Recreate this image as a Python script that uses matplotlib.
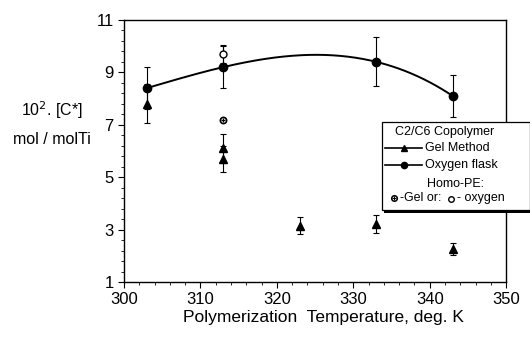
import numpy as np
import matplotlib.pyplot as plt
from matplotlib.lines import Line2D
from matplotlib.patches import Rectangle

plt.rcParams['font.family'] = ['Liberation Sans', 'DejaVu Sans']

# 数据: 聚合温度 (K) 和 10^2.[C*] (mol/molTi)
temp_oxygen = [303, 313, 333, 343]
c_oxygen = [8.4, 9.2, 9.4, 8.1]
err_oxygen = [0.8, 0.8, 0.93, 0.8]

temp_gel = [303, 313, 313, 323, 333, 343]
c_gel = [7.8, 6.1, 5.7, 3.15, 3.2, 2.25]
err_gel = [0.75, 0.55, 0.5, 0.32, 0.34, 0.23]

# 均聚 PE
temp_homo_gel = [313]
c_homo_gel = [7.2]
temp_homo_oxy = [313]
c_homo_oxy = [9.7]
err_homo_oxy = [0.35]

fig = plt.figure(figsize=(5.30, 3.37), dpi=100)
ax = fig.add_axes([0.234, 0.163, 0.721, 0.778])

# 拟合曲线 (三次)
coef = np.polyfit(temp_oxygen, c_oxygen, 3)
tt = np.linspace(303, 343, 200)
ax.plot(tt, np.polyval(coef, tt), color='black', lw=1.4)

ax.errorbar(temp_oxygen, c_oxygen, yerr=err_oxygen, fmt='o', color='black',
            ms=6, elinewidth=0.8, capsize=2.5, capthick=0.8)
ax.errorbar(temp_gel, c_gel, yerr=err_gel, fmt='^', color='black',
            ms=6, elinewidth=0.8, capsize=2.5, capthick=0.8)
ax.errorbar(temp_homo_oxy, c_homo_oxy, yerr=err_homo_oxy, fmt='o', mfc='white',
            mec='black', color='black', ms=5, elinewidth=0.8, capsize=2.5, capthick=0.8)
ax.plot(temp_homo_gel, c_homo_gel, marker='o', mfc='white', mec='black', ms=4.5,
        mew=1.2, ls='none')
ax.plot(temp_homo_gel, c_homo_gel, marker='+', color='black', ms=3.5, mew=0.9, ls='none')

ax.set_xlim(300, 350)
ax.set_ylim(1, 11)
ax.set_xticks(np.arange(300, 351, 10))
ax.set_yticks([1, 3, 5, 7, 9, 11])
ax.set_xticks(np.arange(300, 351, 2), minor=True)
ax.set_yticks(np.arange(1, 11.01, 0.4), minor=True)
ax.tick_params(which='major', direction='out', length=4, labelsize=12, width=0.8)
ax.tick_params(which='minor', direction='out', length=2, width=0.6)
for s in ax.spines.values():
    s.set_linewidth(1.0)

ax.set_xlabel('Polymerization  Temperature, deg. K', fontsize=12.5)
ax.xaxis.set_label_coords(0.521, -0.105)
fig.text(0.098, 0.674, '10$^2$. [C*]', fontsize=11.5, ha='center', va='center')
fig.text(0.098, 0.585, 'mol / molTi', fontsize=11.5, ha='center', va='center')

# 图例框 (手工绘制, 带阴影)
W, H = 530.0, 337.0
shadow = Rectangle((384 / W, 1 - 213 / H), 148 / W, 89 / H, transform=fig.transFigure,
                   facecolor='black', edgecolor='none', zorder=5)
box = Rectangle((382 / W, 1 - 210 / H), 148 / W, 88 / H, transform=fig.transFigure,
                facecolor='white', edgecolor='black', lw=0.9, zorder=6)
fig.patches.extend([shadow, box])

fig.text(395 / W, 1 - 132 / H, 'C2/C6 Copolymer', fontsize=9, va='center', zorder=7)
fig.add_artist(Line2D([385 / W, 422 / W], [1 - 148 / H] * 2, color='black', lw=1.2,
                      transform=fig.transFigure, zorder=7))
fig.add_artist(Line2D([403.5 / W], [1 - 148 / H], marker='^', ms=5, color='black',
                      transform=fig.transFigure, zorder=7))
fig.text(425 / W, 1 - 148 / H, 'Gel Method', fontsize=9, va='center', zorder=7)
fig.add_artist(Line2D([385 / W, 422 / W], [1 - 165 / H] * 2, color='black', lw=1.2,
                      transform=fig.transFigure, zorder=7))
fig.add_artist(Line2D([403.5 / W], [1 - 165 / H], marker='o', ms=4.5, color='black',
                      transform=fig.transFigure, zorder=7))
fig.text(425 / W, 1 - 165 / H, 'Oxygen flask', fontsize=9, va='center', zorder=7)
fig.text(427 / W, 1 - 184 / H, 'Homo-PE:', fontsize=9, va='center', zorder=7)
fig.add_artist(Line2D([394 / W], [1 - 198 / H], marker='o', ms=4, mfc='white', mec='black',
                      mew=1.1, transform=fig.transFigure, zorder=7))
fig.add_artist(Line2D([394 / W], [1 - 198 / H], marker='+', ms=3, color='black',
                      mew=0.8, transform=fig.transFigure, zorder=7))
fig.text(400 / W, 1 - 198 / H, '-Gel or: ', fontsize=9, va='center', zorder=7)
fig.add_artist(Line2D([451 / W], [1 - 199 / H], marker='o', ms=4, mfc='white', mec='black',
                      transform=fig.transFigure, zorder=7))
fig.text(457 / W, 1 - 198 / H, '- oxygen', fontsize=9, va='center', zorder=7)

fig.savefig('out.png', dpi=100)
